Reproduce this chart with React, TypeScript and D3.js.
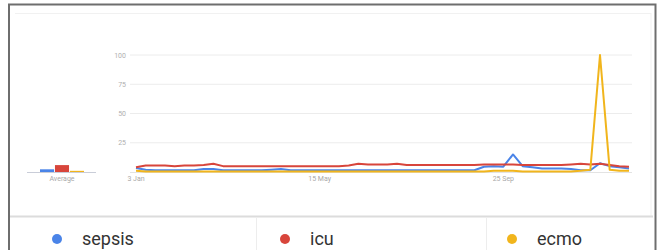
import React from "react";
import * as d3 from "d3";

const seriesNames = ["sepsis", "icu", "ecmo"];
const seriesColors = ["#4a84e8", "#d8453b", "#f1b51c"];

// weekly values, 3 Jan 2016 .. 25 Dec 2016 (52 weeks)
const sepsis = [
  3.5, 2, 1.5, 1.5, 1.5, 1.5, 1.5, 2.5, 2.5, 1.5, 1.5, 1.5, 1.5, 1.5, 2, 2.5, 1.5, 1.5, 1.5, 1.5,
  1.5, 1.5, 1.5, 1.5, 1.5, 1.5, 1.5, 1.5, 1.5, 1.5, 1.5, 1.5, 1.5, 1.5, 1.5, 1.5, 4.5, 5, 4.5, 15,
  5, 4, 3, 3, 3, 2.5, 1.5, 1.5, 7.5, 5, 4, 3,
];
const icu = [
  4, 5.5, 5.5, 5.5, 5, 5.5, 5.5, 6, 7, 5, 5, 5, 5, 5, 5, 5, 5, 5, 5, 5,
  5, 5, 5.5, 7, 6.5, 6.5, 6.5, 7, 6, 6, 6, 6, 6, 6, 6, 6, 6.5, 6.5, 6.5, 6.5,
  6, 6, 6, 6, 6, 6.5, 7, 6.5, 7, 6, 5, 4.5,
];
const ecmo = [
  1, 0.5, 0.5, 0.5, 0.5, 0.5, 0.5, 0.5, 0.5, 0.5, 0.5, 0.5, 0.5, 0.5, 0.5, 0.5, 0.5, 0.5, 0.5, 0.5,
  0.5, 0.5, 0.5, 0.5, 0.5, 0.5, 0.5, 0.5, 0.5, 0.5, 0.5, 0.5, 0.5, 0.5, 0.5, 0.5, 0.5, 1, 1, 1,
  0.5, 0.5, 0.5, 0.5, 0.5, 0.5, 1, 2, 100, 2, 1, 1,
];
const averages = [2.3, 5.9, 1];

const yTicks = [25, 50, 75, 100];
const xTickIndex = [0, 19, 38];
const xTickLabels = ["3 Jan", "15 May", "25 Sep"];

export default function App() {
  const all = [sepsis, icu, ecmo];
  const x = d3.scaleLinear().domain([0, sepsis.length - 1]).range([136, 629]);
  const y = d3.scaleLinear().domain([0, 100]).range([172, 55]);
  const line = d3
    .line<number>()
    .x((_, i) => x(i))
    .y((d) => y(d));
  const band = d3.scaleBand<string>().domain(seriesNames).range([40, 84]).paddingInner(0.06);
  const legendX = [57, 285, 512];
  const font = "Roboto, 'Noto Sans', Arial, sans-serif";

  return (
    <>
      <style>{"body{margin:0}"}</style>
      <svg width={657} height={250} style={{ display: "block", background: "#fff" }}>
        {/* frame */}
        <line x1={15} x2={651} y1={13.5} y2={13.5} stroke="#f1f1f1" />
        <line x1={651} x2={651} y1={13} y2={216} stroke="#f1f1f1" />
        <rect x={9} y={4.5} width={646.5} height={260} fill="none" stroke="#6e6e6e" strokeWidth={2} />
        {/* grid */}
        {yTicks.map((t) => (
          <g key={t}>
            <line x1={130} x2={632} y1={y(t)} y2={y(t)} stroke="#ececec" />
            <text x={126} y={y(t) + 2.5} fontSize={7} fill="#b0b0b0" textAnchor="end" fontFamily={font}>
              {t}
            </text>
          </g>
        ))}
        <line x1={130} x2={632} y1={y(0) + 0.5} y2={y(0) + 0.5} stroke="#e3e3e3" />
        {xTickIndex.map((ti, k) => (
          <text key={ti} x={x(ti)} y={180.5} fontSize={7} fill="#a8a8a8" textAnchor="middle" fontFamily={font}>
            {xTickLabels[k]}
          </text>
        ))}
        {/* average */}
        <line x1={27} x2={96} y1={172.5} y2={172.5} stroke="#c9cdd8" />
        {averages.map((v, i) => (
          <rect
            key={seriesNames[i]}
            x={band(seriesNames[i])}
            y={y(v)}
            width={band.bandwidth()}
            height={y(0) - y(v)}
            fill={seriesColors[i]}
          />
        ))}
        <text x={62} y={180.5} fontSize={7} fill="#a8a8a8" textAnchor="middle" fontFamily={font}>
          Average
        </text>
        {/* lines */}
        {all.map((s, i) => (
          <path
            key={seriesNames[i]}
            d={line(s) || ""}
            fill="none"
            stroke={seriesColors[i]}
            strokeWidth={2}
            strokeLinejoin="round"
          />
        ))}
        {/* legend */}
        <line x1={10} x2={653} y1={216.5} y2={216.5} stroke="#dcdcdc" strokeWidth={2} />
        <line x1={256.5} x2={256.5} y1={218} y2={250} stroke="#ededed" />
        <line x1={486.5} x2={486.5} y1={218} y2={250} stroke="#ededed" />
        {seriesNames.map((n, i) => (
          <g key={n}>
            <circle cx={legendX[i]} cy={239} r={5} fill={seriesColors[i]} />
            <text x={legendX[i] + 25} y={245} fontSize={18} fill="#333" fontFamily={font}>
              {n}
            </text>
          </g>
        ))}
      </svg>
    </>
  );
}
